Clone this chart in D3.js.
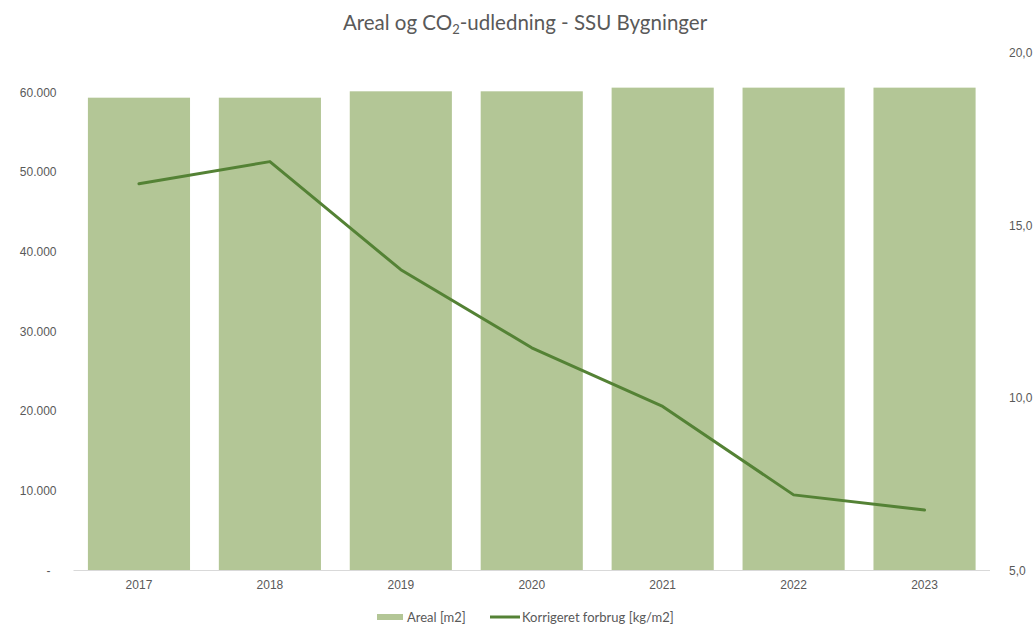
<!DOCTYPE html>
<meta charset="utf-8">
<head>
  <title>Areal og CO2-udledning - SSU Bygninger</title>
</head>

<style>
body {
  margin: 0;
  background: #fff;
  font-family: Lato, "Open Sans", sans-serif;
}

svg text {
  fill: #595959;
}

.axis path, .axis line {
  display: none;
}

.baseline {
  stroke: #d9d9d9;
  stroke-width: 1;
}

.bars rect {
  fill: #b3c696;
}

.trend {
  fill: none;
  stroke: #548235;
  stroke-width: 3;
  stroke-linejoin: round;
  stroke-linecap: round;
}
</style>

<body>
  <svg width="1034" height="625"></svg>

  <script src="https://cdnjs.cloudflare.com/ajax/libs/d3/7.8.5/d3.min.js"></script>

  <script>
var years = ['2017', '2018', '2019', '2020', '2021', '2022', '2023'];
var areal = [59330, 59330, 60130, 60130, 60590, 60590, 60590];
var forbrug = [16.2, 16.84, 13.71, 11.45, 9.75, 7.19, 6.75];
var leftTicks = [0, 10000, 20000, 30000, 40000, 50000, 60000];
var rightTicks = [5, 10, 15, 20];

var svg = d3.select('svg');
var margin = {top: 52.5, right: 44, bottom: 54.5, left: 73.5};
var width = 1034 - margin.left - margin.right;
var height = 625 - margin.top - margin.bottom;

var locale = d3.formatLocale({decimal: ',', thousands: '.', grouping: [3], currency: ['', ' kr']});
var fmtLeft = locale.format(',.0f');
var fmtRight = locale.format('.1f');

var x = d3.scaleBand()
  .domain(years)
  .range([0, width])
  .paddingInner(0.22)
  .paddingOuter(0.11);

var yLeft = d3.scaleLinear()
  .domain([0, 65000])
  .range([height, 0]);

var yRight = d3.scaleLinear()
  .domain([5, 20])
  .range([height, 0]);

var g = svg.append('g')
  .attr('transform', 'translate(' + margin.left + ',' + margin.top + ')');

// Title with subscript
var title = svg.append('text')
  .attr('x', 525)
  .attr('y', 30)
  .attr('text-anchor', 'middle')
  .style('font-size', '20.5px');
title.append('tspan').text('Areal og CO');
title.append('tspan').text('2').attr('dy', 4).style('font-size', '13px');
title.append('tspan').text('-udledning - SSU Bygninger').attr('dy', -4);

// Bars
g.append('g')
  .attr('class', 'bars')
  .selectAll('rect')
  .data(years)
  .enter()
  .append('rect')
  .attr('x', function(d) { return x(d); })
  .attr('width', x.bandwidth())
  .attr('y', function(d, i) { return yLeft(areal[i]); })
  .attr('height', function(d, i) { return height - yLeft(areal[i]); });

// Baseline
g.append('line')
  .attr('class', 'baseline')
  .attr('x1', 0)
  .attr('x2', width)
  .attr('y1', height)
  .attr('y2', height);

// Line
var line = d3.line()
  .x(function(d, i) { return x(years[i]) + x.bandwidth() / 2; })
  .y(function(d) { return yRight(d); });

g.append('path')
  .datum(forbrug)
  .attr('class', 'trend')
  .attr('d', line);

// Left axis
var leftAxis = g.append('g')
  .attr('class', 'axis')
  .call(d3.axisLeft(yLeft)
    .tickValues(leftTicks)
    .tickSize(0)
    .tickPadding(17)
    .tickFormat(function(d) { return d === 0 ? '-' : fmtLeft(d); }));
leftAxis.selectAll('text')
  .style('font-size', '12px')
  .style('fill', '#595959')
  .attr('dx', function(d) { return d === 0 ? -6 : 0; });

// Right axis
var rightAxis = g.append('g')
  .attr('class', 'axis')
  .attr('transform', 'translate(' + width + ',0)')
  .call(d3.axisRight(yRight)
    .tickValues(rightTicks)
    .tickSize(0)
    .tickPadding(19)
    .tickFormat(fmtRight));
rightAxis.selectAll('text')
  .style('font-size', '12px')
  .style('fill', '#595959');

// Bottom axis
var bottomAxis = g.append('g')
  .attr('class', 'axis')
  .attr('transform', 'translate(0,' + height + ')')
  .call(d3.axisBottom(x).tickSize(0).tickPadding(10));
bottomAxis.selectAll('text')
  .style('font-size', '12px')
  .style('fill', '#595959');

// Legend
var legend = svg.append('g')
  .attr('transform', 'translate(0,617)');

legend.append('rect')
  .attr('x', 377)
  .attr('y', -3)
  .attr('width', 26)
  .attr('height', 6)
  .attr('fill', '#b3c696');
legend.append('text')
  .attr('x', 407)
  .attr('y', 4.5)
  .style('font-size', '13px')
  .text('Areal [m2]');

legend.append('line')
  .attr('x1', 490)
  .attr('x2', 520)
  .attr('y1', 0)
  .attr('y2', 0)
  .attr('stroke', '#548235')
  .attr('stroke-width', 3);
legend.append('text')
  .attr('x', 522)
  .attr('y', 4.5)
  .style('font-size', '13px')
  .text('Korrigeret forbrug [kg/m2]');
  </script>
</body>
</html>
